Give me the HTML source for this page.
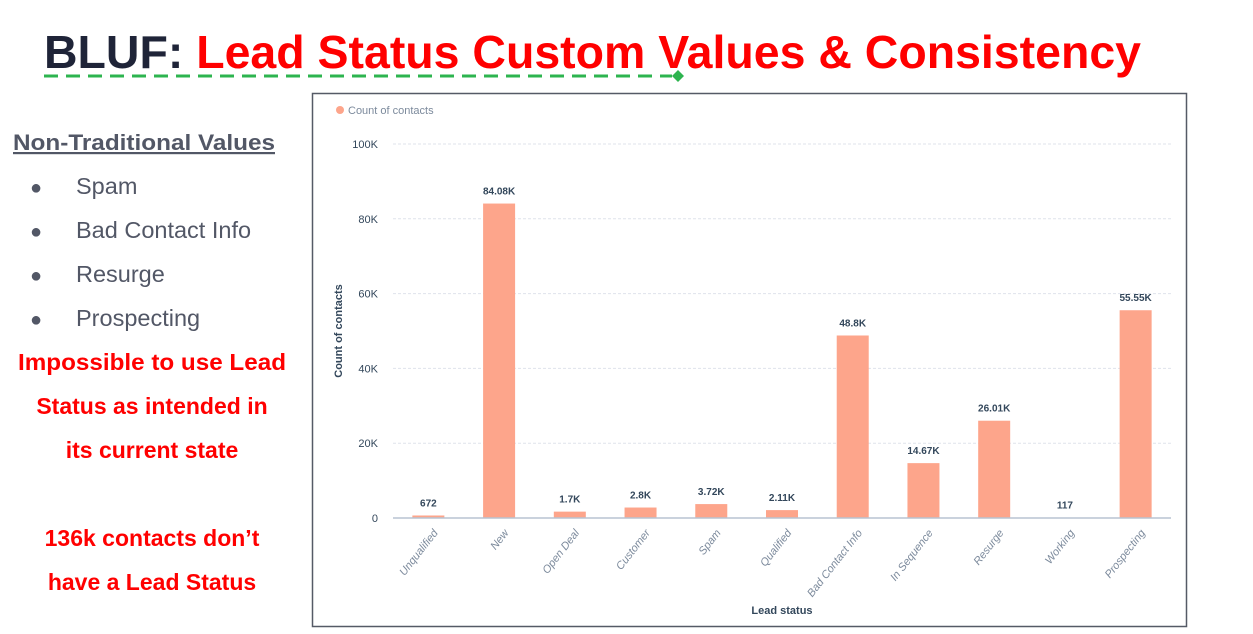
<!DOCTYPE html>
<html><head><meta charset="utf-8"><style>
body{margin:0;background:#fff;width:1253px;height:634px;overflow:hidden;font-family:"Liberation Sans",sans-serif}
svg{position:absolute;left:0;top:0}
</style></head><body>
<svg width="1253" height="634">
<text x="44" y="68" font-size="46" font-weight="bold" textLength="1097" lengthAdjust="spacingAndGlyphs"><tspan fill="#1f2438">BLUF: </tspan><tspan fill="#ff0000">Lead Status Custom Values &amp; Consistency</tspan></text>
<line x1="44" y1="76" x2="672" y2="76" stroke="#2db44f" stroke-width="3" stroke-dasharray="14,8"/>
<path d="M672 76 L678 70 L684 76 L678 82 Z" fill="#2db44f"/>
<text x="144" y="150" font-size="22" font-weight="bold" fill="#525766" text-anchor="middle" text-decoration="underline" textLength="262" lengthAdjust="spacingAndGlyphs">Non-Traditional Values</text>
<g font-size="23.5" fill="#525766">
<text x="30" y="194" font-size="20">●</text><text x="76" y="194">Spam</text>
<text x="30" y="238" font-size="20">●</text><text x="76" y="238">Bad Contact Info</text>
<text x="30" y="282" font-size="20">●</text><text x="76" y="282">Resurge</text>
<text x="30" y="326" font-size="20">●</text><text x="76" y="326">Prospecting</text>
</g>
<g font-size="23" font-weight="bold" fill="#ff0000" text-anchor="middle">
<text x="152" y="370" textLength="268" lengthAdjust="spacingAndGlyphs">Impossible to use Lead</text>
<text x="152" y="414">Status as intended in</text>
<text x="152" y="458">its current state</text>
<text x="152" y="546">136k contacts don’t</text>
<text x="152" y="590">have a Lead Status</text>
</g>
<rect x="312.5" y="93.5" width="874" height="533" fill="#fff" stroke="#555a66" stroke-width="1.5"/>
<circle cx="340" cy="110" r="4" fill="#fda58b"/>
<text x="348" y="114" font-size="11" fill="#7c8a9c">Count of contacts</text>
<g id="chart"></g>
<text x="0" y="0" transform="translate(342,331) rotate(-90)" font-size="11" font-weight="bold" fill="#33475b" text-anchor="middle">Count of contacts</text>
<text x="782" y="614" font-size="11" font-weight="bold" fill="#33475b" text-anchor="middle">Lead status</text>
</svg>
<script>
const categories=["Unqualified","New","Open Deal","Customer","Spam","Qualified","Bad Contact Info","In Sequence","Resurge","Working","Prospecting"];
const values=[672,84080,1700,2800,3720,2110,48800,14670,26010,117,55550];
const valueLabels=["672","84.08K","1.7K","2.8K","3.72K","2.11K","48.8K","14.67K","26.01K","117","55.55K"];
const yTicks=[0,20000,40000,60000,80000,100000];
const yTickLabels=["0","20K","40K","60K","80K","100K"];
const NS="http://www.w3.org/2000/svg";
const g=document.getElementById('chart');
const y0=518,y1=144,yMax=100000,xL=393,xR=1171;
const y=v=>y0-(v/yMax)*(y0-y1);
const step=(xR-xL)/categories.length;
const x=i=>xL+step*(i+0.5);
function mk(t,a){const e=document.createElementNS(NS,t);for(const k in a)e.setAttribute(k,a[k]);g.appendChild(e);return e;}
yTicks.forEach((t,i)=>{
 if(t>0){const l=mk('line',{x1:xL,x2:xR,y1:y(t),y2:y(t),stroke:'#dfe3eb','stroke-dasharray':'3,2'});
 
 }
 const tx=mk('text',{x:378,y:y(t)+4,'font-size':11,fill:'#33475b','text-anchor':'end'});
 tx.textContent=yTickLabels[i];
 
 
});
values.forEach((v,i)=>{
 const r=mk('rect',{x:x(i)-16,y:y(v),width:32,height:y0-y(v),fill:'#fda58b'});
 
 
 const lb=mk('text',{x:x(i),y:y(v)-9,'font-size':10,'font-weight':'bold',fill:'#33475b','text-anchor':'middle'});
 lb.textContent=valueLabels[i];
 
 
 const c=mk('text',{x:0,y:0,'font-size':11,'font-style':'italic',fill:'#7c8a9c','text-anchor':'end',transform:`translate(${x(i)+10},${y0+15}) rotate(-52)`});
 c.textContent=categories[i];
 
 
});
const ax=mk('line',{x1:xL,x2:xR,y1:y0,y2:y0,stroke:'#b8c4d2','stroke-width':1.5});


</script>
</body></html>
